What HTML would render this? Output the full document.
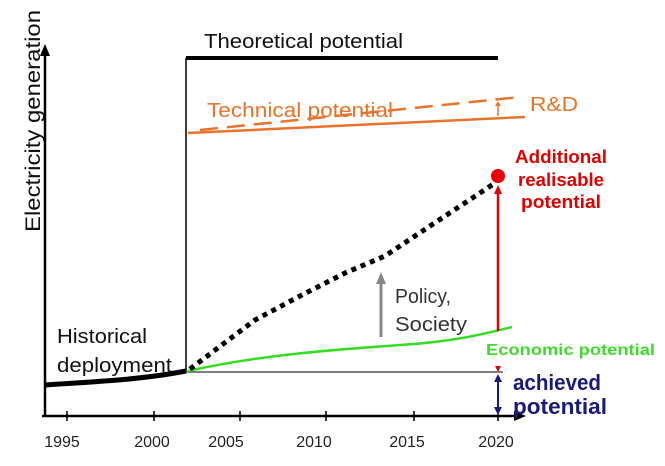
<!DOCTYPE html>
<html><head><meta charset="utf-8"><style>
html,body{margin:0;padding:0;background:#fff}
svg{display:block;font-family:"Liberation Sans",sans-serif}
</style></head><body>
<svg width="665" height="466" viewBox="0 0 665 466" xmlns="http://www.w3.org/2000/svg">
<!-- axes -->
<line x1="45" y1="416" x2="45" y2="52" stroke="#000" stroke-width="2.5"/>
<path d="M40,56 L45,44 L50,56 z" fill="#000"/>
<line x1="42" y1="416" x2="518" y2="416" stroke="#000" stroke-width="2.5"/>
<path d="M514,411 L526,416 L514,421 z" fill="#000"/>
<g stroke="#000" stroke-width="1.5">
<line x1="67" y1="411" x2="67" y2="421"/><line x1="154" y1="411" x2="154" y2="421"/>
<line x1="240" y1="411" x2="240" y2="421"/><line x1="326" y1="411" x2="326" y2="421"/>
<line x1="414" y1="411" x2="414" y2="421"/><line x1="498" y1="411" x2="498" y2="421"/>
</g>
<g font-size="16" fill="#222" text-anchor="middle">
<text x="62" y="447">1995</text><text x="152" y="447">2000</text><text x="226" y="447">2005</text>
<text x="314" y="447">2010</text><text x="407" y="447">2015</text><text x="496" y="447">2020</text>
</g>
<text transform="translate(40,121) rotate(-90)" font-size="21" fill="#111" text-anchor="middle" textLength="222" lengthAdjust="spacingAndGlyphs">Electricity generation</text>
<!-- theoretical -->
<line x1="186" y1="372" x2="186" y2="58" stroke="#000" stroke-width="1.5"/>
<line x1="186" y1="58" x2="498" y2="58" stroke="#000" stroke-width="4"/>
<text x="204" y="48" font-size="20" fill="#111" textLength="199" lengthAdjust="spacingAndGlyphs">Theoretical potential</text>
<!-- technical -->
<line x1="188" y1="133" x2="525" y2="117" stroke="#e8732a" stroke-width="2.5"/>
<path d="M200,130 L520,97" stroke="#e8732a" stroke-width="2.5" stroke-dasharray="18,9" fill="none"/>
<text x="207" y="117" font-size="20" fill="#e8732a" textLength="186" lengthAdjust="spacingAndGlyphs">Technical potential</text>
<text x="530" y="111" font-size="20" fill="#e8732a" textLength="48" lengthAdjust="spacingAndGlyphs">R&amp;D</text>
<line x1="498" y1="116" x2="498" y2="105" stroke="#e8732a" stroke-width="1.5"/>
<path d="M495,106 L498,101 L501,106 z" fill="#e8732a"/>
<!-- historical -->
<path d="M45,385 C90,382 140,380 186,371" stroke="#000" stroke-width="5" fill="none"/>
<text x="57" y="343" font-size="20" fill="#111" textLength="90" lengthAdjust="spacingAndGlyphs">Historical</text>
<text x="57" y="372" font-size="20" fill="#111" textLength="115" lengthAdjust="spacingAndGlyphs">deployment</text>
<!-- achieved line -->
<line x1="186" y1="372" x2="503" y2="372" stroke="#555" stroke-width="1.5"/>
<!-- green -->
<path d="M188,371 C260,355 330,350 400,345 C450,342 480,335 512,327" stroke="#33dd22" stroke-width="2.5" fill="none"/>
<text x="486" y="355" font-size="16" font-weight="bold" fill="#3ddc2a" textLength="169" lengthAdjust="spacingAndGlyphs">Economic potential</text>
<!-- dotted -->
<path d="M190,369 L255,320 L300,296 L345,273 L385,256 L430,226 L495,183" stroke="#000" stroke-width="5" stroke-dasharray="5,5" fill="none"/>
<!-- policy -->
<line x1="381" y1="337" x2="381" y2="282" stroke="#888" stroke-width="3"/>
<path d="M376,284 L381,272 L386,284 z" fill="#888"/>
<text x="395" y="303" font-size="20" fill="#333" textLength="56" lengthAdjust="spacingAndGlyphs">Policy,</text>
<text x="395" y="331" font-size="20" fill="#333" textLength="72" lengthAdjust="spacingAndGlyphs">Society</text>
<!-- red -->
<line x1="498" y1="331" x2="498" y2="192" stroke="#e00000" stroke-width="2.5"/>
<path d="M494,194 L498,185 L502,194 z" fill="#e00000"/>
<circle cx="498" cy="176" r="7" fill="#ee0000"/>
<path d="M495,366 L501,366 L498,372 z" fill="#e00000"/>
<g font-size="18" font-weight="bold" fill="#e00000" text-anchor="middle">
<text x="561" y="163" textLength="92" lengthAdjust="spacingAndGlyphs">Additional</text>
<text x="561" y="186" textLength="86" lengthAdjust="spacingAndGlyphs">realisable</text>
<text x="561" y="208" textLength="80" lengthAdjust="spacingAndGlyphs">potential</text>
</g>
<!-- achieved -->
<line x1="498" y1="380" x2="498" y2="408" stroke="#1a1a7a" stroke-width="2"/>
<path d="M494,382 L498,374 L502,382 z" fill="#1a1a7a"/>
<path d="M494,407 L498,415 L502,407 z" fill="#1a1a7a"/>
<g font-size="22" font-weight="bold" fill="#1a1a7a">
<text x="513" y="390" textLength="88" lengthAdjust="spacingAndGlyphs">achieved</text>
<text x="513" y="414" textLength="94" lengthAdjust="spacingAndGlyphs">potential</text>
</g>
</svg>
</body></html>
